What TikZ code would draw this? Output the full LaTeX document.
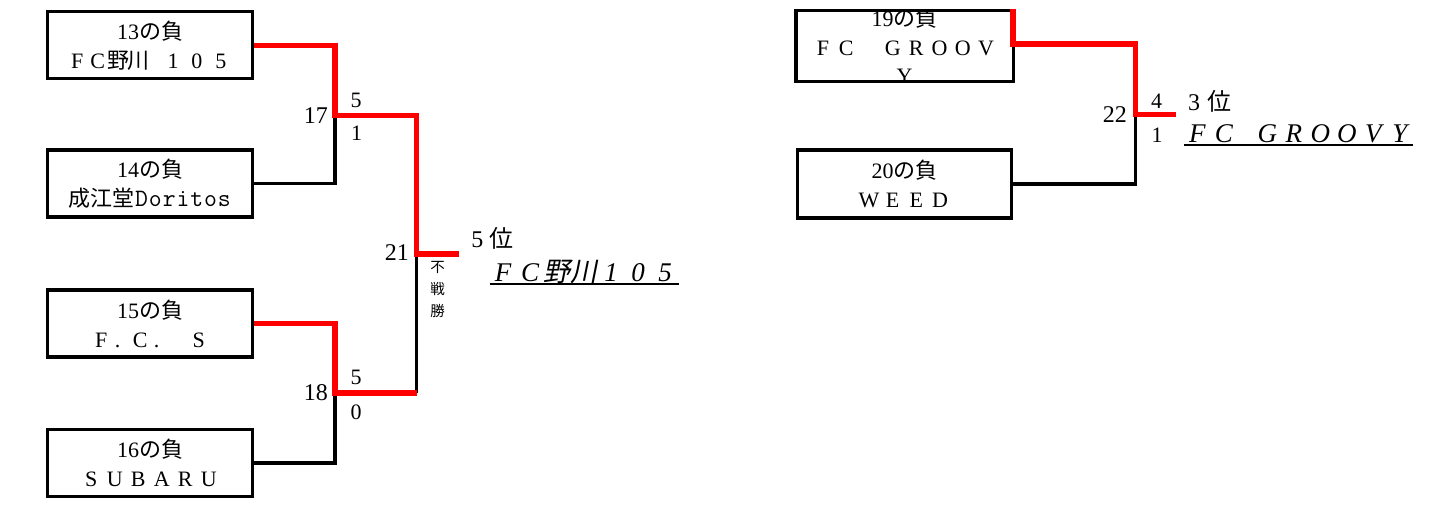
\documentclass[tikz,border=0pt]{standalone}
\usepackage{fontspec}
\setmainfont{Liberation Serif}
\newfontfamily\jp{Noto Sans CJK JP}
\newfontfamily\jpsl[FakeSlant=0.2]{Noto Sans CJK JP}
\newcommand\fw[2][23.5pt]{\makebox[#1][c]{#2}}
\begin{document}
\begin{tikzpicture}[x=1pt,y=-1pt,
  team/.style={draw, line width=3.2pt, minimum width=205pt, minimum height=67pt,
    inner sep=0pt, align=center, font=\fontsize{22}{29}\selectfont},
  lose/.style={line width=3.2pt, black},
  win/.style={line width=5.6pt, red},
  score/.style={font=\fontsize{22}{22}\selectfont, inner sep=0pt},
  junc/.style={font=\fontsize{24}{24}\selectfont, inner sep=0pt, anchor=east},
  rank/.style={font=\fontsize{24}{24}\selectfont, inner sep=0pt, anchor=base west},
  champ/.style={font=\fontsize{27}{27}\selectfont\itshape, inner sep=0pt, anchor=base west},
  uline/.style={line width=2.6pt, black}
]
\useasboundingbox (0,0) rectangle (1434,506);

% ---------- left bracket boxes ----------
\node[team] (t13) at (150,45.3) {13{\jp の負}\\\fw[20.5pt]{F}\fw[20.5pt]{C}\fw[20.5pt]{\jp 野}\fw[20.5pt]{\jp 川}\hspace{12pt}\fw[24pt]{1}\fw[24pt]{0}\fw[24pt]{5}};
\node[team] (t14) at (150,183.5) {14{\jp の負}\\{\jp 成江堂}{\ttfamily\fontsize{25}{29}\selectfont\fw[13.8pt]{D}\fw[13.8pt]{o}\fw[13.8pt]{r}\fw[13.8pt]{i}\fw[13.8pt]{t}\fw[13.8pt]{o}\fw[13.8pt]{s}}};
\node[team] (t15) at (150,323.5) {15{\jp の負}\\\fw[19.5pt]{F}\fw[19.5pt]{\hspace*{-6pt}.}\fw[19.5pt]{C}\fw[19.5pt]{\hspace*{-6pt}.}\fw[19.5pt]{}\fw[19.5pt]{S}};
\node[team] (t16) at (150,463) {16{\jp の負}\\\fw{S}\fw{U}\fw{B}\fw{A}\fw{R}\fw{U}};

% ---------- right bracket boxes ----------
\node[team, draw=none, minimum width=214pt, minimum height=68pt] (t19) at (904.5,46) {};
\begin{scope}
  \clip (t19.south west) rectangle (t19.north east);
  \node[align=center, inner sep=0pt, font=\fontsize{22}{28.3}\selectfont] (t19txt) at (t19.center)
    {19{\jp の負}\\\fw[23.3pt]{F}\fw[23.3pt]{C}\fw[23.3pt]{}\fw[23.3pt]{G}\fw[23.3pt]{R}\fw[23.3pt]{O}\fw[23.3pt]{O}\fw[23.3pt]{V}\\Y};
\end{scope}
\draw[line width=3.2pt] (t19.south west) rectangle (t19.north east);
\node[team, minimum width=214pt, minimum height=68pt] (t20) at (904.5,184) {20{\jp の負}\\\fw[23.75pt]{W}\fw[23.75pt]{E}\fw[23.75pt]{E}\fw[23.75pt]{D}};

% ---------- junction coordinates ----------
\coordinate (j17) at (335,115.5);
\coordinate (j18) at (335,393);
\coordinate (j21) at (416.5,254);
\coordinate (e21) at (459,254);
\coordinate (k22) at (1135.5,44);
\coordinate (j22) at (1135.5,114.5);
\coordinate (e22) at (1176,114.5);

% ---------- losing (black) lines ----------
\draw[lose] (t14.east) -| (j17);
\draw[lose] (t16.east) -| (j18);
\draw[lose] (j18 -| j21) -- (j21);
\draw[lose] (t20.east) -| (j22);

% ---------- winning (red) lines ----------
\draw[win] (t13.east) -| (j17) -- (j17 -| j21) -- (j21) -- (e21);
\draw[win] (t15.east) -| (j18) -- (j18 -| j21);
\draw[win] ([yshift=1.6pt]t19.north east) |- (k22) -- (j22) -- (e22);

% ---------- match numbers and scores ----------
\node[junc] (n17) at (328,115.5) {17};
\node[score] (s17a) at (356,100.5) {5};
\node[score] (s17b) at (356.5,133.5) {1};
\node[junc] (n18) at (328,393) {18};
\node[score] (s18a) at (356,377.5) {5};
\node[score] (s18b) at (356,412.5) {0};
\node[junc] (n21) at (409,253) {21};
\node[inner sep=0pt, align=center, font=\jp\fontsize{14.5}{21.8}\selectfont] (fusen) at (437.5,289.5) {不\\戦\\勝};
\node[junc] (n22) at (1127,115) {22};
\node[score] (s22a) at (1156.5,101.5) {4};
\node[score] (s22b) at (1157,135) {1};

% ---------- results ----------
\node[rank] (r5) at (465,247) {\fw[24.5pt]{5}\fw[24.5pt]{\jp 位}};
\node[champ] (w5) at (489.5,281.5) {\fw[27pt]{F}\fw[27pt]{C}\fw[27pt]{\jpsl 野}\fw[27pt]{\jpsl 川}\fw[27pt]{1}\fw[27pt]{0}\fw[27pt]{5}};
\draw[uline] ([yshift=-2.6pt]w5.base west) -- ([yshift=-2.6pt]w5.base east);
\node[rank] (r3) at (1181.5,110) {\fw[25pt]{3}\fw[25pt]{\jp 位}};
\node[champ] (w3) at (1184,142.5) {\fw[26.5pt]{F}\fw[26.5pt]{C}\hspace{17pt}\fw[26.5pt]{G}\fw[26.5pt]{R}\fw[26.5pt]{O}\fw[26.5pt]{O}\fw[26.5pt]{V}\fw[26.5pt]{Y}};
\draw[uline] ([yshift=-2.6pt]w3.base west) -- ([yshift=-2.6pt]w3.base east);
\end{tikzpicture}
\end{document}
